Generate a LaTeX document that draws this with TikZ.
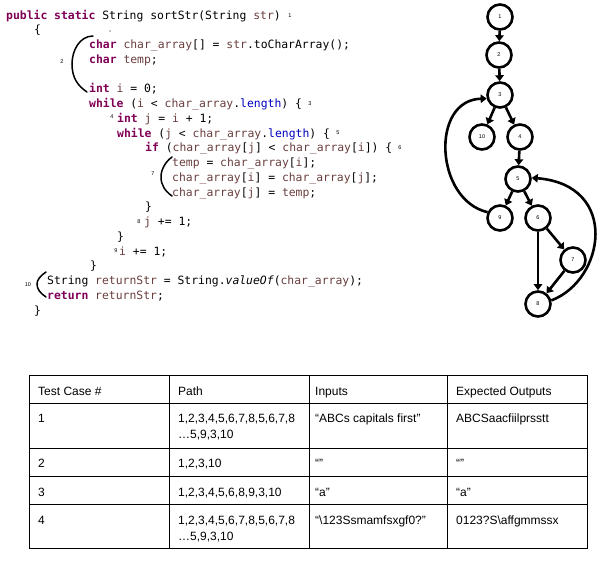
\documentclass[tikz,border=0pt]{standalone}
\usepackage{fontspec}
\setmainfont{Liberation Sans}
\setmonofont{DejaVu Sans Mono}
\usetikzlibrary{arrows.meta}
\definecolor{kwc}{HTML}{7F0055}
\definecolor{lvc}{HTML}{6A3E3E}
\definecolor{flc}{HTML}{0000C0}
\newcommand{\kw}[1]{\textcolor{kwc}{\textbf{#1}}}
\newcommand{\lv}[1]{\textcolor{lvc}{#1}}
\newcommand{\fl}[1]{\textcolor{flc}{#1}}
\begin{document}
\begin{tikzpicture}[x=1pt,y=-1pt,
 code/.style={anchor=base west, inner sep=0pt, font=\fontsize{11.4}{13}\ttfamily},
 lab/.style={inner sep=0pt, font=\fontsize{5.5}{6}\selectfont},
 brc/.style={line width=1.5pt, line cap=round},
 gnode/.style={circle, draw, line width=2.6pt, minimum size=25pt, inner sep=0pt, font=\fontsize{5.5}{6}\selectfont},
 garr/.style={line width=2.6pt, -{Triangle[length=6pt,width=8.5pt]}},
 cell/.style={anchor=base west, inner sep=0pt, font=\fontsize{12}{14}\selectfont},
 grid/.style={line width=0.9pt}
]
\useasboundingbox (0,0) rectangle (613,581);

% ---------- code ----------
\node[code] (c0) at (6,19) {\kw{public} \kw{static} String sortStr(String \lv{str})};
\node[code] (c1) at (34,33.75) {\{};
\node[code] (c2) at (89,48.5) {\kw{char} \lv{char\_array}[] = \lv{str}.toCharArray();};
\node[code] (c3) at (89,63.25) {\kw{char} \lv{temp};};
\node[code] (c5) at (89,92.75) {\kw{int} \lv{i} = 0;};
\node[code] (c6) at (89,107.5) {\kw{while} (\lv{i} < \lv{char\_array}.\fl{length}) \{};
\node[code] (c7) at (117,122.25) {\kw{int} \lv{j} = \lv{i} + 1;};
\node[code] (c8) at (117,137) {\kw{while} (\lv{j} < \lv{char\_array}.\fl{length}) \{};
\node[code] (c9) at (145,151.75) {\kw{if} (\lv{char\_array}[\lv{j}] < \lv{char\_array}[\lv{i}]) \{};
\node[code] (c10) at (172,166.5) {\lv{temp} = \lv{char\_array}[\lv{i}];};
\node[code] (c11) at (172,181.25) {\lv{char\_array}[\lv{i}] = \lv{char\_array}[\lv{j}];};
\node[code] (c12) at (172,196) {\lv{char\_array}[\lv{j}] = \lv{temp};};
\node[code] (c13) at (145,210.75) {\}};
\node[code] (c14) at (144,225.5) {\lv{j} += 1;};
\node[code] (c15) at (117,240.25) {\}};
\node[code] (c16) at (119,255) {\lv{i} += 1;};
\node[code] (c17) at (90,269.75) {\}};
\node[code] (c18) at (47,284.5) {String \lv{returnStr} = String.\textit{valueOf}(\lv{char\_array});};
\node[code] (c19) at (47,299.25) {\kw{return} \lv{returnStr};};
\node[code] (c20) at (34,314) {\}};

\fill (110,31) circle (0.7);

% labels
\node[lab] (l1) at (290,16) {1};
\node[lab] (l2) at (62,62) {2};
\node[lab] (l3) at (310,104) {3};
\node[lab] (l4) at (112,117) {4};
\node[lab] (l5) at (338,133) {5};
\node[lab] (l6) at (400,148) {6};
\node[lab] (l7) at (153,174) {7};
\node[lab] (l8) at (139,222) {8};
\node[lab] (l9) at (116,251) {9};
\node[lab] (l10) at (28,285) {10};

% braces
\draw[brc] (93,36) .. controls (80,36) and (72,50) .. (72,64) .. controls (72,78) and (78,86) .. (87,92);
\draw[brc] (172,157) .. controls (165,162) and (161,170) .. (161,177) .. controls (161,185) and (165,191) .. (172,196);
\draw[brc] (46,272) .. controls (40,276) and (37,280) .. (37,284) .. controls (37,289) and (40,293) .. (46,297);

% ---------- graph ----------
\node[gnode] (n1) at (500,17) {1};
\node[gnode] (n2) at (499,55) {2};
\node[gnode] (n3) at (500,95) {3};
\node[gnode] (n10) at (482,137) {10};
\node[gnode] (n4) at (520,137) {4};
\node[gnode] (n5) at (518,179) {5};
\node[gnode] (n9) at (500,218) {9};
\node[gnode] (n6) at (538,218) {6};
\node[gnode] (n7) at (573,260) {7};
\node[gnode] (n8) at (538,304) {8};

\draw[garr] (n1) -- (n2);
\draw[garr] (n2) -- (n3);
\draw[garr] (n3) -- (n10);
\draw[garr] (n3) -- (n4);
\draw[garr] (n4) -- (n5);
\draw[garr] (n5) -- (n9);
\draw[garr] (n5) -- (n6);
\draw[garr] (n6) -- (n7);
\draw[garr] (n6) -- (n8);
\draw[garr] (n7) -- (n8);
\draw[garr] (n9.155) .. controls (435,200) and (430,100) .. (n3.195);
\draw[garr] (n8.15) .. controls (605,280) and (620,185) .. (n5.5);

% ---------- table ----------
\draw[grid] (29.7,375.7) rectangle (587,548);
\foreach \yy in {403,448,476,504} \draw[grid] (29.7,\yy) -- (587,\yy);
\foreach \xx in {169,309,447} \draw[grid] (\xx,375.7) -- (\xx,548);

\node[cell] (h1) at (38,395) {Test Case \#};
\node[cell] (h2) at (178,395) {Path};
\node[cell] (h3) at (315,395) {Inputs};
\node[cell] (h4) at (456,395) {Expected Outputs};

\node[cell] (r1a) at (38,422) {1};
\node[cell] (r1b) at (178,422) {1,2,3,4,5,6,7,8,5,6,7,8};
\node[cell] (r1b2) at (178,438) {…5,9,3,10};
\node[cell] (r1c) at (315,422) {“ABCs capitals first”};
\node[cell] (r1d) at (456,422) {ABCSaacfiilprsstt};

\node[cell] (r2a) at (38,467) {2};
\node[cell] (r2b) at (178,467) {1,2,3,10};
\node[cell] (r2c) at (315,467) {“”};
\node[cell] (r2d) at (456,467) {“”};

\node[cell] (r3a) at (38,496) {3};
\node[cell] (r3b) at (178,496) {1,2,3,4,5,6,8,9,3,10};
\node[cell] (r3c) at (315,496) {“a”};
\node[cell] (r3d) at (456,496) {“a”};

\node[cell] (r4a) at (38,524) {4};
\node[cell] (r4b) at (178,524) {1,2,3,4,5,6,7,8,5,6,7,8};
\node[cell] (r4b2) at (178,540) {…5,9,3,10};
\node[cell] (r4c) at (315,524) {“\textbackslash 123Ssmamfsxgf0?”};
\node[cell] (r4d) at (456,524) {0123?S\textbackslash affgmmssx};
\end{tikzpicture}
\end{document}
